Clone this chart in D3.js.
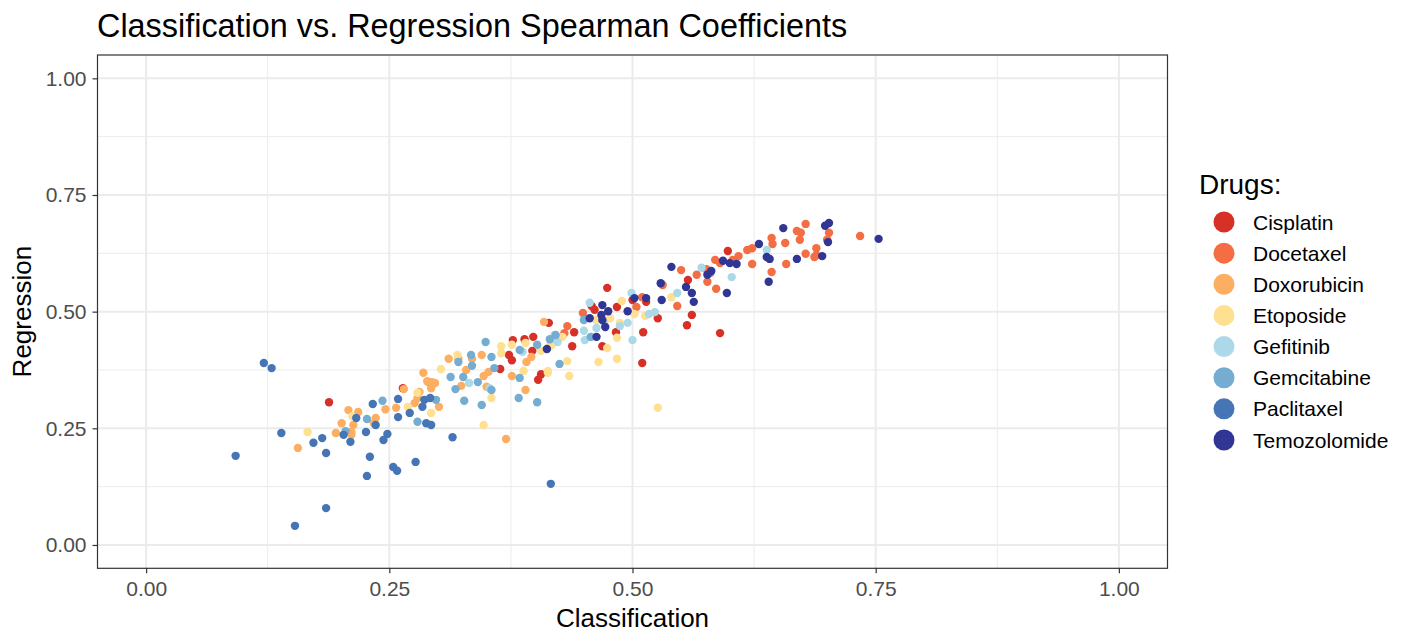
<!DOCTYPE html>
<html><head><meta charset="utf-8">
<script src="https://cdn.jsdelivr.net/npm/d3@7"></script>
<style>body{margin:0;background:#fff;} text{font-family:"Liberation Sans",Arial,sans-serif;}</style>
</head><body><svg id="chart" width="1411" height="633"></svg>
<script>
const drugs = ["Cisplatin","Docetaxel","Doxorubicin","Etoposide","Gefitinib","Gemcitabine","Paclitaxel","Temozolomide"];
const colors = ["#D73027","#F46D43","#FDAE61","#FEE090","#ABD9E9","#74ADD1","#4575B4","#313695"];
const xTicks = [0, 0.25, 0.5, 0.75, 1];
const yTicks = [0, 0.25, 0.5, 0.75, 1];
const tickLabels = ["0.00","0.25","0.50","0.75","1.00"];

// [classification, regression]
const cisplatin = [[0.188,0.306],[0.414,0.476],[0.377,0.439],[0.389,0.441],[0.398,0.446],[0.397,0.416],[0.373,0.407],[0.376,0.396],[0.364,0.377],[0.406,0.366],[0.403,0.354],[0.264,0.336],[0.291,0.349],[0.474,0.551],[0.458,0.512],[0.461,0.504],[0.484,0.510],[0.500,0.525],[0.514,0.521],[0.526,0.486],[0.557,0.568],[0.561,0.493],[0.556,0.471],[0.511,0.456],[0.510,0.390],[0.438,0.426],[0.440,0.456],[0.483,0.456],[0.469,0.426],[0.590,0.454],[0.598,0.630]];
const docetaxel = [[0.550,0.589],[0.566,0.579],[0.576,0.591],[0.580,0.583],[0.585,0.611],[0.577,0.564],[0.586,0.549],[0.531,0.557],[0.510,0.531],[0.504,0.510],[0.546,0.512],[0.449,0.497],[0.433,0.469],[0.430,0.454],[0.678,0.688],[0.669,0.673],[0.673,0.669],[0.702,0.669],[0.700,0.654],[0.672,0.654],[0.657,0.647],[0.643,0.658],[0.644,0.645],[0.623,0.636],[0.618,0.632],[0.689,0.636],[0.689,0.621],[0.687,0.617],[0.678,0.624],[0.658,0.602],[0.643,0.585],[0.623,0.602],[0.609,0.619],[0.603,0.611],[0.590,0.604],[0.734,0.662]];
const doxorubicin = [[0.208,0.289],[0.218,0.285],[0.246,0.291],[0.257,0.294],[0.236,0.272],[0.234,0.261],[0.201,0.261],[0.213,0.257],[0.211,0.242],[0.195,0.240],[0.211,0.236],[0.156,0.208],[0.409,0.478],[0.391,0.392],[0.396,0.403],[0.376,0.362],[0.390,0.332],[0.311,0.399],[0.321,0.399],[0.335,0.399],[0.345,0.407],[0.329,0.375],[0.352,0.371],[0.347,0.362],[0.324,0.341],[0.350,0.339],[0.285,0.369],[0.289,0.351],[0.294,0.349],[0.297,0.347],[0.293,0.336],[0.281,0.328],[0.279,0.315],[0.276,0.304],[0.265,0.334],[0.301,0.296],[0.370,0.227]];
const etoposide = [[0.212,0.276],[0.166,0.242],[0.365,0.426],[0.376,0.429],[0.390,0.433],[0.406,0.416],[0.417,0.429],[0.365,0.411],[0.388,0.373],[0.413,0.373],[0.320,0.407],[0.303,0.377],[0.355,0.315],[0.347,0.257],[0.279,0.326],[0.269,0.296],[0.293,0.283],[0.489,0.523],[0.463,0.482],[0.477,0.486],[0.487,0.476],[0.502,0.495],[0.513,0.491],[0.540,0.531],[0.484,0.444],[0.474,0.422],[0.465,0.392],[0.484,0.399],[0.433,0.394],[0.428,0.446],[0.415,0.426],[0.413,0.369],[0.435,0.362],[0.526,0.294]];
const gefitinib = [[0.423,0.435],[0.387,0.414],[0.332,0.347],[0.353,0.336],[0.456,0.519],[0.499,0.540],[0.546,0.540],[0.523,0.499],[0.517,0.495],[0.495,0.476],[0.487,0.469],[0.471,0.476],[0.463,0.465],[0.450,0.459],[0.451,0.439],[0.500,0.439],[0.458,0.446],[0.571,0.594],[0.420,0.450],[0.638,0.632],[0.602,0.574]];
const gemcitabine = [[0.243,0.309],[0.227,0.270],[0.205,0.244],[0.349,0.435],[0.384,0.418],[0.402,0.429],[0.415,0.441],[0.421,0.450],[0.384,0.358],[0.402,0.306],[0.383,0.315],[0.334,0.407],[0.355,0.403],[0.358,0.379],[0.321,0.392],[0.335,0.384],[0.313,0.360],[0.326,0.360],[0.341,0.349],[0.355,0.332],[0.318,0.334],[0.327,0.309],[0.345,0.300],[0.298,0.311],[0.279,0.264],[0.425,0.388],[0.450,0.482],[0.457,0.446]];
const paclitaxel = [[0.121,0.390],[0.129,0.379],[0.233,0.302],[0.216,0.272],[0.139,0.240],[0.203,0.236],[0.210,0.221],[0.181,0.229],[0.172,0.219],[0.226,0.242],[0.236,0.257],[0.248,0.238],[0.244,0.225],[0.185,0.197],[0.230,0.189],[0.254,0.167],[0.258,0.159],[0.227,0.148],[0.185,0.079],[0.153,0.041],[0.092,0.191],[0.259,0.313],[0.259,0.274],[0.286,0.311],[0.284,0.296],[0.292,0.315],[0.271,0.283],[0.288,0.261],[0.293,0.257],[0.315,0.231],[0.277,0.178],[0.416,0.131]];
const temozolomide = [[0.540,0.596],[0.555,0.553],[0.561,0.540],[0.563,0.521],[0.529,0.561],[0.530,0.525],[0.469,0.514],[0.475,0.501],[0.495,0.501],[0.502,0.529],[0.514,0.529],[0.468,0.493],[0.469,0.482],[0.463,0.446],[0.456,0.486],[0.472,0.467],[0.412,0.420],[0.655,0.679],[0.698,0.684],[0.702,0.690],[0.701,0.649],[0.630,0.645],[0.638,0.617],[0.641,0.613],[0.669,0.613],[0.695,0.619],[0.640,0.564],[0.597,0.540],[0.607,0.602],[0.600,0.604],[0.593,0.609],[0.581,0.587],[0.577,0.579],[0.753,0.656]];

const series = [cisplatin, docetaxel, doxorubicin, etoposide, gefitinib, gemcitabine, paclitaxel, temozolomide];
const points = [];
series.forEach((arr, i) => arr.forEach(d => points.push({drug: drugs[i], x: d[0], y: d[1]})));

const svg = d3.select("#chart");
const L = 97.5, R = 1167.5, T = 55, B = 568.3;
const x = d3.scaleLinear().domain([-0.05, 1.05]).range([L, R]);
const y = d3.scaleLinear().domain([-0.05, 1.05]).range([B, T]);
const color = d3.scaleOrdinal().domain(drugs).range(colors);

// title
svg.append("text").attr("x", 97).attr("y", 37).attr("font-size", 32.4).attr("fill", "#000")
  .text("Classification vs. Regression Spearman Coefficients");

// grid
const g = svg.append("g");
const minor = [0.125, 0.375, 0.625, 0.875];
g.selectAll(".vminor").data(minor).join("line")
  .attr("x1", d => x(d)).attr("x2", d => x(d)).attr("y1", T).attr("y2", B)
  .attr("stroke", "#EBEBEB").attr("stroke-width", 1);
g.selectAll(".hminor").data(minor).join("line")
  .attr("y1", d => y(d)).attr("y2", d => y(d)).attr("x1", L).attr("x2", R)
  .attr("stroke", "#EBEBEB").attr("stroke-width", 1);
g.selectAll(".vmajor").data(xTicks).join("line")
  .attr("x1", d => x(d)).attr("x2", d => x(d)).attr("y1", T).attr("y2", B)
  .attr("stroke", "#EBEBEB").attr("stroke-width", 2);
g.selectAll(".hmajor").data(yTicks).join("line")
  .attr("y1", d => y(d)).attr("y2", d => y(d)).attr("x1", L).attr("x2", R)
  .attr("stroke", "#EBEBEB").attr("stroke-width", 2);

// points
svg.append("g").selectAll("circle").data(points).join("circle")
  .attr("cx", d => x(d.x)).attr("cy", d => y(d.y)).attr("r", 4.2)
  .attr("fill", d => color(d.drug));

// panel border
svg.append("rect").attr("x", L).attr("y", T).attr("width", R - L).attr("height", B - T)
  .attr("fill", "none").attr("stroke", "#333333").attr("stroke-width", 1.2);

// axes
const xAxis = d3.axisBottom(x).tickValues(xTicks).tickFormat((d, i) => tickLabels[i]).tickSize(5).tickPadding(8);
const yAxis = d3.axisLeft(y).tickValues(yTicks).tickFormat((d, i) => tickLabels[i]).tickSize(5).tickPadding(6);
const gx = svg.append("g").attr("transform", `translate(0,${B})`).call(xAxis);
const gy = svg.append("g").attr("transform", `translate(${L},0)`).call(yAxis);
[gx, gy].forEach(a => {
  a.select(".domain").remove();
  a.selectAll(".tick line").attr("stroke", "#333333").attr("stroke-width", 1.2);
  a.selectAll(".tick text").attr("fill", "#4D4D4D").attr("font-size", 21)
    .attr("font-family", "Liberation Sans, Arial, sans-serif");
});

// axis titles
svg.append("text").attr("x", (L + R) / 2).attr("y", 627).attr("text-anchor", "middle")
  .attr("font-size", 26).attr("fill", "#000").text("Classification");
svg.append("text").attr("transform", `translate(31,${(T + B) / 2}) rotate(-90)`).attr("text-anchor", "middle")
  .attr("font-size", 26).attr("fill", "#000").text("Regression");

// legend
const lg = svg.append("g");
lg.append("text").attr("x", 1199).attr("y", 194).attr("font-size", 28).attr("fill", "#000").text("Drugs:");
const ly = d3.scalePoint().domain(drugs).range([222, 440]);
lg.selectAll("circle").data(drugs).join("circle")
  .attr("cx", 1224).attr("cy", d => ly(d)).attr("r", 10.5).attr("fill", d => color(d));
lg.selectAll(".lab").data(drugs).join("text")
  .attr("x", 1253).attr("y", d => ly(d) + 7.5).attr("font-size", 21).attr("fill", "#000").text(d => d);
</script></body></html>
